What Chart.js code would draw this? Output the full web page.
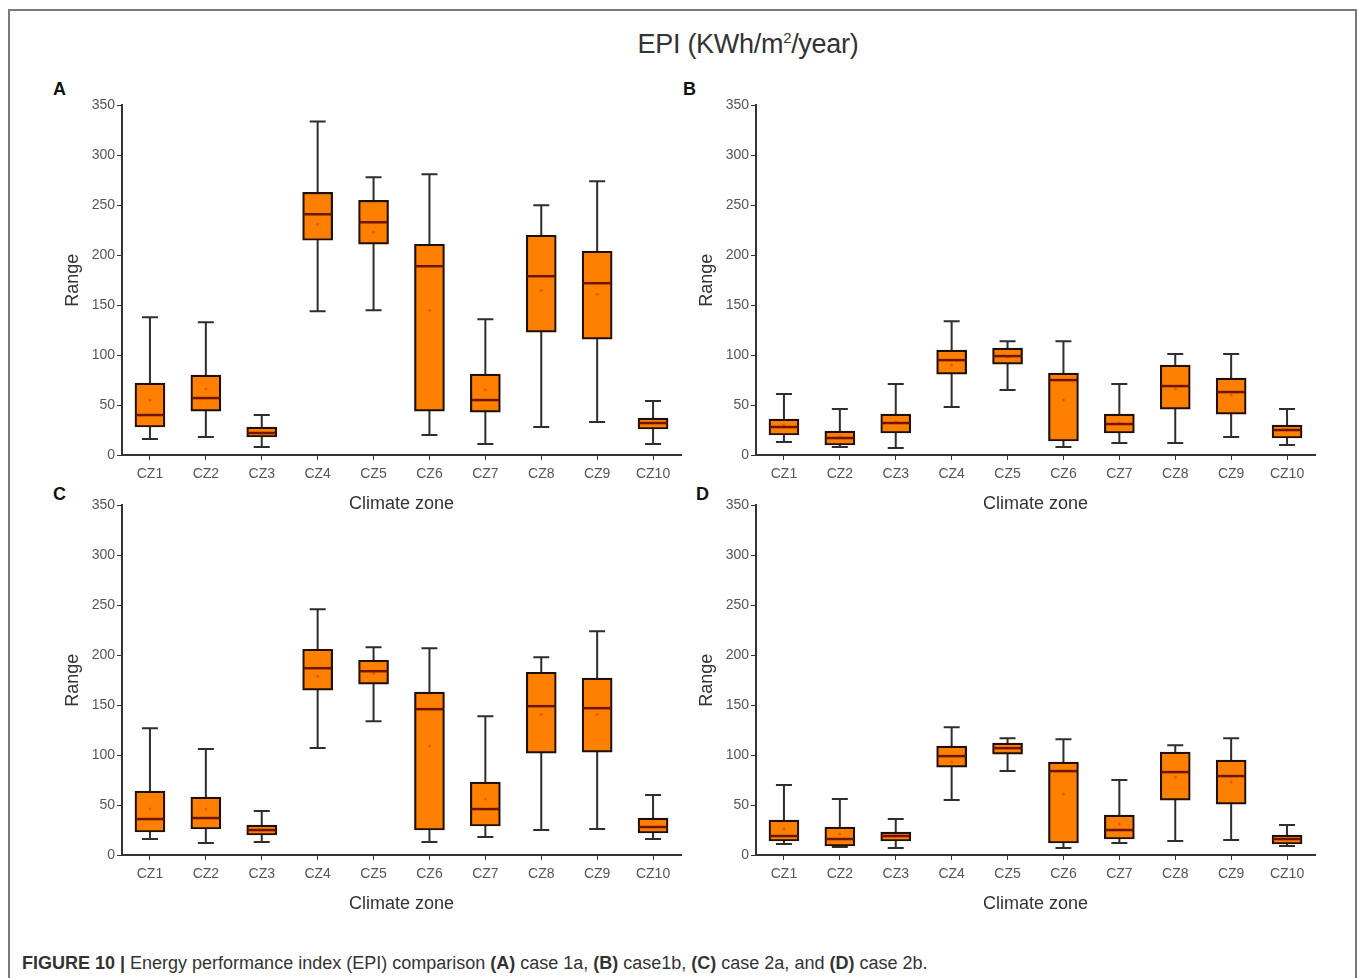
<!DOCTYPE html>
<html>
<head>
<meta charset="utf-8">
<script src="https://cdn.jsdelivr.net/npm/chart.js@4.4.1/dist/chart.umd.min.js"></script>
<style>
  body { margin: 0; background: #fff; font-family: "Liberation Sans", Arial, sans-serif; }
  #frame { position: absolute; left: 8px; top: 9px; width: 1349px; height: 980px;
           border: 2px solid #7a7a7a; border-bottom: none; box-sizing: border-box; }
  .panel { position: absolute; }
  .letter { position: absolute; font-weight: bold; font-size: 18px; color: #111; }
  #title { position: absolute; left: 548px; width: 400px; top: 29px; text-align: center;
           font-size: 27px; color: #333; letter-spacing: -0.3px; }
  #title sup { font-size: 15px; }
  #caption { position: absolute; left: 22px; top: 953px; font-size: 18px; color: #333;
             white-space: nowrap; letter-spacing: 0px; }
</style>
</head>
<body>
<div id="frame"></div>
<div id="title">EPI (KWh/m<sup>2</sup>/year)</div>
<div class="letter" style="left:53px;top:79px">A</div>
<div class="letter" style="left:683px;top:79px">B</div>
<div class="letter" style="left:53px;top:484px">C</div>
<div class="letter" style="left:696px;top:484px">D</div>

<div class="panel" style="left:50px;top:95px"><canvas id="chartA" width="635" height="420"></canvas></div>
<div class="panel" style="left:684px;top:95px"><canvas id="chartB" width="635" height="420"></canvas></div>
<div class="panel" style="left:50px;top:495px"><canvas id="chartC" width="635" height="420"></canvas></div>
<div class="panel" style="left:684px;top:495px"><canvas id="chartD" width="635" height="420"></canvas></div>

<div id="caption"><b>FIGURE 10 |</b> Energy performance index (EPI) comparison <b>(A)</b> case 1a, <b>(B)</b> case1b, <b>(C)</b> case 2a, and <b>(D)</b> case 2b.</div>

<script>
const zones = ["CZ1", "CZ2", "CZ3", "CZ4", "CZ5", "CZ6", "CZ7", "CZ8", "CZ9", "CZ10"];
const yMax = 350;
const yStep = 50;

// (A) case 1a
const minA  = [16, 18,  8, 144, 145,  20, 11,  28,  33, 11];
const q1A   = [28, 44, 18, 215, 211,  44, 43, 123, 116, 26];
const medA  = [40, 57, 22, 241, 233, 189, 55, 179, 172, 32];
const q3A   = [72, 80, 28, 263, 255, 211, 81, 220, 204, 37];
const maxA  = [138, 133, 40, 334, 278, 281, 136, 250, 274, 54];
const meanA = [55, 66, 22, 231, 223, 145, 65, 165, 161, 32];

// (B) case 1b
const minB  = [13,  8,  7,  48,  65,   8, 12,  12,  18, 10];
const q1B   = [20, 10, 22,  81,  91,  14, 22,  46,  41, 17];
const medB  = [28, 17, 32,  95,  99,  75, 31,  69,  63, 25];
const q3B   = [36, 24, 41, 105, 107,  82, 41,  90,  77, 30];
const maxB  = [61, 46, 71, 134, 114, 114, 71, 101, 101, 46];
const meanB = [30, 18, 33,  90,  98,  55, 32,  66,  60, 25];

// (C) case 2a
const minC  = [16, 12, 13, 107, 134,  13, 18,  25,  26, 16];
const q1C   = [23, 26, 20, 165, 171,  25, 29, 102, 103, 22];
const medC  = [36, 37, 25, 187, 184, 146, 46, 149, 147, 28];
const q3C   = [64, 58, 30, 206, 195, 163, 73, 183, 177, 37];
const maxC  = [127, 106, 44, 246, 208, 207, 139, 198, 224, 60];
const meanC = [46, 46, 25, 179, 182, 109, 56, 141, 141, 28];

// (D) case 2b
const minD  = [11,  8,  7,  55,  84,   7, 12,  14,  15,  9];
const q1D   = [14,  9, 14,  88, 101,  12, 16,  55,  51, 11];
const medD  = [19, 16, 19,  99, 107,  84, 25,  83,  79, 16];
const q3D   = [35, 28, 23, 109, 112,  93, 40, 103,  95, 20];
const maxD  = [70, 56, 36, 128, 117, 116, 75, 110, 117, 30];
const meanD = [26, 21, 19,  93, 107,  61, 31,  78,  73, 16];

const boxFill = "#ff8000";
const boxLine = "#1f0f06";
const medianColor = "#6e1500";
const whiskerColor = "#2e2e2e";

// whiskers behind the boxes, medians on top
const boxPlotPlugin = {
  id: "boxPlot",
  beforeDatasetsDraw(chart) {
    const st = chart.data.datasets[0].stats;
    const bars = chart.getDatasetMeta(0).data;
    const y = chart.scales.y;
    const c = chart.ctx;
    c.save();
    c.strokeStyle = whiskerColor;
    c.lineWidth = 2;
    bars.forEach((bar, i) => {
      const yLo = y.getPixelForValue(st.min[i]);
      const yHi = y.getPixelForValue(st.max[i]);
      c.beginPath();
      c.moveTo(bar.x, yLo); c.lineTo(bar.x, yHi);
      c.moveTo(bar.x - 8, yLo); c.lineTo(bar.x + 8, yLo);
      c.moveTo(bar.x - 8, yHi); c.lineTo(bar.x + 8, yHi);
      c.stroke();
    });
    c.restore();
  },
  afterDatasetsDraw(chart) {
    const st = chart.data.datasets[0].stats;
    const bars = chart.getDatasetMeta(0).data;
    const y = chart.scales.y;
    const c = chart.ctx;
    c.save();
    c.strokeStyle = medianColor;
    c.lineWidth = 2.5;
    bars.forEach((bar, i) => {
      const ym = y.getPixelForValue(st.med[i]);
      c.beginPath();
      c.moveTo(bar.x - bar.width / 2 + 1, ym);
      c.lineTo(bar.x + bar.width / 2 - 1, ym);
      c.stroke();
    });
    c.restore();
  }
};

function makeBox(id, mins, q1, med, q3, maxs, mean) {
  const axisFont = { family: "'Liberation Sans', Arial, sans-serif", size: 14 };
  const titleFont = { family: "'Liberation Sans', Arial, sans-serif", size: 18 };
  new Chart(document.getElementById(id), {
    type: "bar",
    data: {
      labels: zones,
      datasets: [{
        type: "bar",
        data: q1.map((v, i) => [v, q3[i]]),
        stats: { min: mins, med: med, max: maxs },
        backgroundColor: boxFill,
        borderColor: boxLine,
        borderWidth: 2.2,
        borderSkipped: false,
        barThickness: 30,
        order: 2
      }, {
        type: "line",
        data: mean,
        showLine: false,
        pointRadius: 1.5,
        pointBackgroundColor: "rgba(200,70,20,0.6)",
        pointBorderWidth: 0,
        order: 1
      }]
    },
    options: {
      responsive: false,
      animation: false,
      layout: { padding: { top: 7, right: 0, bottom: 0, left: 0 } },
      plugins: { legend: { display: false }, tooltip: { enabled: false } },
      scales: {
        x: {
          offset: true,
          grid: { drawOnChartArea: false, tickLength: 5, tickColor: "#333", offset: false },
          border: { color: "#333", width: 2 },
          ticks: { color: "#555", font: axisFont, padding: 6 },
          title: { display: true, text: "Climate zone", color: "#333", font: titleFont, padding: { top: 2, bottom: 0 } },
          afterFit: s => { s.height = 60; }
        },
        y: {
          min: 0,
          max: yMax,
          grid: { drawOnChartArea: false, tickLength: 5, tickColor: "#333" },
          border: { color: "#333", width: 2 },
          ticks: { stepSize: yStep, color: "#555", font: axisFont, padding: 2 },
          title: { display: true, text: "Range", color: "#333", font: titleFont, padding: { top: 12, bottom: 0 } },
          afterFit: s => { s.width = 72; }
        }
      }
    },
    plugins: [boxPlotPlugin]
  });
}

makeBox("chartA", minA, q1A, medA, q3A, maxA, meanA);
makeBox("chartB", minB, q1B, medB, q3B, maxB, meanB);
makeBox("chartC", minC, q1C, medC, q3C, maxC, meanC);
makeBox("chartD", minD, q1D, medD, q3D, maxD, meanD);
</script>
</body>
</html>
